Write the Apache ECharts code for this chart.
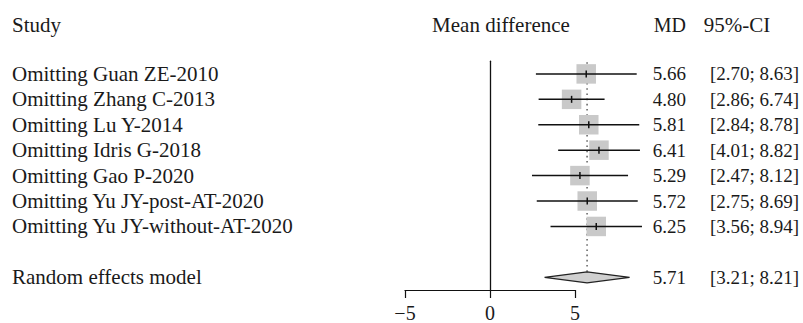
<!DOCTYPE html>
<html>
<head>
<meta charset="utf-8">
<script src="https://cdn.jsdelivr.net/npm/echarts@6/dist/echarts.min.js"></script>
<style>
html,body{margin:0;padding:0;background:#fff;}
#chart{width:803px;height:323px;}
</style>
</head>
<body>
<div id="chart"></div>
<script>
// ---- data ----
const studies = [
  'Omitting Guan ZE-2010',
  'Omitting Zhang C-2013',
  'Omitting Lu Y-2014',
  'Omitting Idris G-2018',
  'Omitting Gao P-2020',
  'Omitting Yu JY-post-AT-2020',
  'Omitting Yu JY-without-AT-2020'
];
const mdValues = [5.66, 4.80, 5.81, 6.41, 5.29, 5.72, 6.25];
const ciLower  = [2.70, 2.86, 2.84, 4.01, 2.47, 2.75, 3.56];
const ciUpper  = [8.63, 6.74, 8.78, 8.82, 8.12, 8.69, 8.94];
const pooledLabel = ['Random effects model'];
const pooledMD = [5.71];
const pooledLower = [3.21];
const pooledUpper = [8.21];
const xTicks = [-5, 0, 5];
const headers = ['Study', 'Mean difference', 'MD', '95%-CI'];

// ---- layout / style ----
const FONT = '"Liberation Serif", "Times New Roman", serif';
const FS = 19;      // numbers
const FW = 21;      // words
const TXT = '#1a1a1a';
const NAME_X = 12, MD_RIGHT = 686, CI_LEFT = 710;

const pooledRow = studies.length + 2;
const fmt = v => v.toFixed(2);

const chart = echarts.init(document.getElementById('chart'), null, {renderer: 'svg'});

const studyData = studies.map((s, i) => [mdValues[i], ciLower[i], ciUpper[i], i + 1]);
const pooledData = pooledMD.map((m, i) => [m, pooledLower[i], pooledUpper[i], pooledRow]);

function txt(x, y, s, align, size) {
  return {type: 'text', style: {x: x, y: y, text: s, fill: TXT, font: size + 'px ' + FONT, textAlign: align, textVerticalAlign: 'middle'}};
}

chart.setOption({
  animation: false,
  grid: {left: 405, right: 228, top: 61.2, bottom: 31.4, containLabel: false},
  xAxis: {
    type: 'value', min: xTicks[0], max: xTicks[xTicks.length - 1], interval: 5,
    splitLine: {show: false},
    axisLine: {onZero: false, lineStyle: {color: '#111', width: 1.2}},
    axisTick: {length: 8, lineStyle: {color: '#111', width: 1.2}},
    axisLabel: {color: TXT, fontFamily: FONT, fontSize: 20, margin: 13,
      formatter: v => String(v).replace('-', '\u2212')}
  },
  yAxis: {
    type: 'value', inverse: true, min: 0.5, max: pooledRow + 0.5,
    splitLine: {show: false},
    axisLabel: {show: false}, axisTick: {show: false},
    axisLine: {show: true, onZero: true, lineStyle: {color: '#111', width: 1.3}}
  },
  graphic: [
    {type: 'text', x: NAME_X, y: 25, style: {text: headers[0], fill: TXT, font: FW + 'px ' + FONT, textAlign: 'left', textVerticalAlign: 'middle'}},
    {type: 'text', x: 501, y: 25, style: {text: headers[1], fill: TXT, font: FW + 'px ' + FONT, textAlign: 'center', textVerticalAlign: 'middle'}},
    {type: 'text', x: MD_RIGHT, y: 25, style: {text: headers[2], fill: TXT, font: 20 + 'px ' + FONT, textAlign: 'right', textVerticalAlign: 'middle'}},
    {type: 'text', x: 737, y: 25, style: {text: headers[3], fill: TXT, font: FW + 'px ' + FONT, textAlign: 'center', textVerticalAlign: 'middle'}}
  ],
  series: [
    {
      type: 'custom', clip: false, data: pooledData,
      renderItem: function (params, api) {
        const m = api.value(0), lo = api.value(1), hi = api.value(2), row = api.value(3);
        const c = api.coord([m, row]);
        const l = api.coord([lo, row]);
        const h = api.coord([hi, row]);
        const top = api.coord([m, 0.5]);
        const hh = 5.5;
        return {type: 'group', children: [
          {type: 'line', shape: {x1: c[0], y1: top[1] + 1, x2: c[0], y2: c[1] - hh}, style: {stroke: '#555', lineWidth: 1.4, lineDash: [1.6, 3.6]}},
          {type: 'polygon', shape: {points: [[l[0], c[1]], [c[0], c[1] - hh], [h[0], c[1]], [c[0], c[1] + hh]]}, style: {fill: '#d0d0d0', stroke: '#222', lineWidth: 1.2}},
          txt(NAME_X, c[1], pooledLabel[params.dataIndex], 'left', FW),
          txt(MD_RIGHT, c[1], fmt(m), 'right', FS),
          txt(CI_LEFT, c[1], '[' + fmt(lo) + '; ' + fmt(hi) + ']', 'left', FS)
        ]};
      }
    },
    {
      type: 'custom', clip: false, data: studyData,
      renderItem: function (params, api) {
        const m = api.value(0), lo = api.value(1), hi = api.value(2), row = api.value(3);
        const c = api.coord([m, row]);
        const l = api.coord([lo, row]);
        const h = api.coord([hi, row]);
        const bs = 19.5;
        return {type: 'group', children: [
          {type: 'rect', shape: {x: c[0] - bs / 2, y: c[1] - bs / 2, width: bs, height: bs}, style: {fill: '#c9c9c9'}},
          {type: 'line', shape: {x1: l[0], y1: c[1], x2: h[0], y2: c[1]}, style: {stroke: '#111', lineWidth: 1.5}},
          {type: 'line', shape: {x1: c[0], y1: c[1] - 3.5, x2: c[0], y2: c[1] + 3.5}, style: {stroke: '#111', lineWidth: 1.5}},
          txt(NAME_X, c[1], studies[params.dataIndex], 'left', FW),
          txt(MD_RIGHT, c[1], fmt(m), 'right', FS),
          txt(CI_LEFT, c[1], '[' + fmt(lo) + '; ' + fmt(hi) + ']', 'left', FS)
        ]};
      }
    }
  ]
});
</script>
</body>
</html>
